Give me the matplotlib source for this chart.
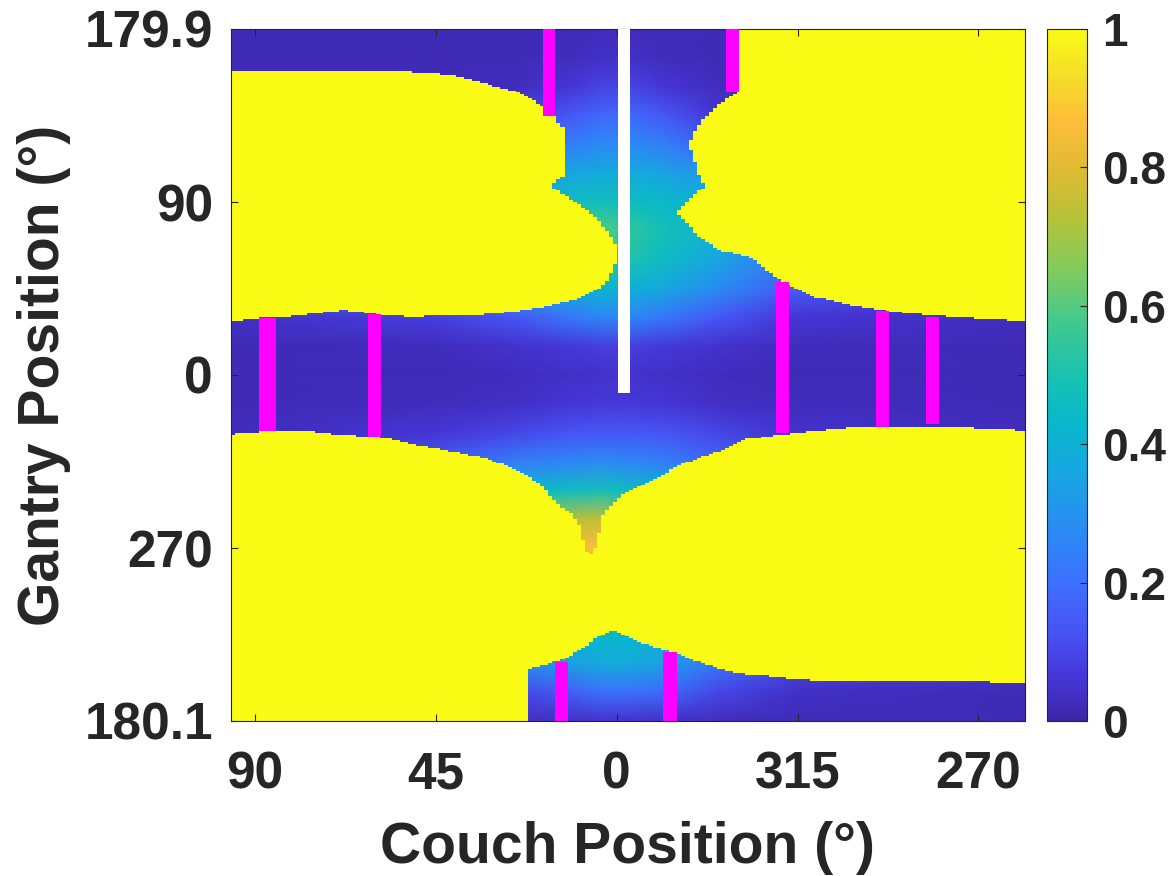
import numpy as np
import matplotlib
matplotlib.use("Agg")
import matplotlib.pyplot as plt
from matplotlib.colors import LinearSegmentedColormap
from matplotlib.path import Path
from matplotlib.patches import Rectangle

# parula-like colormap
parula_pts = [
    (0.00, (0.243, 0.150, 0.660)),
    (0.06, (0.270, 0.210, 0.840)),
    (0.13, (0.280, 0.330, 0.960)),
    (0.20, (0.240, 0.440, 0.995)),
    (0.27, (0.170, 0.540, 0.960)),
    (0.35, (0.100, 0.640, 0.890)),
    (0.43, (0.030, 0.720, 0.800)),
    (0.50, (0.100, 0.760, 0.690)),
    (0.58, (0.260, 0.790, 0.550)),
    (0.65, (0.500, 0.795, 0.370)),
    (0.73, (0.720, 0.760, 0.220)),
    (0.80, (0.880, 0.730, 0.200)),
    (0.87, (0.995, 0.745, 0.230)),
    (0.93, (0.960, 0.860, 0.160)),
    (1.00, (0.977, 0.984, 0.081)),
]
parula = LinearSegmentedColormap.from_list("parula", parula_pts)

# coarse map of the free (non-collision) region, couch x gantry
couch_nodes = [96, 45, 25, 12, 4, -4, -12, -25, -45, -102]
gantry_nodes = [180, 165, 150, 135, 120, 105, 90, 75, 60, 45, 30, 15, 0,
                -15, -30, -45, -60, -75, -90, -105, -120, -135, -150, -165, -180]
free_vals = [
    [.02, .02, .02, .02, .03, .03, .02, .02, .02, .02],
    [.02, .02, .02, .03, .04, .04, .03, .02, .02, .02],
    [.02, .02, .03, .06, .09, .09, .06, .03, .02, .02],
    [.02, .03, .08, .14, .18, .18, .14, .06, .02, .02],
    [.05, .10, .15, .24, .27, .27, .24, .15, .05, .05],
    [.10, .20, .30, .36, .38, .38, .35, .30, .10, .10],
    [.15, .30, .42, .46, .47, .46, .44, .40, .15, .10],
    [.20, .40, .52, .57, .60, .54, .48, .40, .20, .10],
    [.20, .40, .50, .53, .54, .50, .45, .36, .20, .10],
    [.15, .30, .34, .40, .42, .40, .36, .28, .15, .06],
    [.04, .08, .14, .22, .26, .26, .22, .14, .06, .03],
    [.02, .03, .05, .07, .08, .08, .07, .05, .03, .02],
    [.02, .02, .03, .04, .05, .05, .04, .03, .02, .02],
    [.02, .03, .04, .06, .07, .07, .06, .04, .03, .02],
    [.03, .06, .10, .13, .14, .14, .13, .10, .05, .03],
    [.05, .15, .24, .26, .27, .26, .24, .18, .10, .05],
    [.10, .30, .42, .46, .48, .45, .42, .30, .15, .10],
    [.20, .50, .66, .72, .75, .70, .60, .45, .20, .10],
    [.30, .60, .80, .85, .87, .85, .70, .50, .30, .20],
    [.30, .60, .80, .85, .87, .85, .70, .50, .30, .20],
    [.30, .40, .42, .44, .45, .45, .44, .40, .30, .20],
    [.20, .30, .38, .42, .43, .42, .40, .30, .20, .10],
    [.10, .20, .28, .34, .38, .38, .34, .22, .10, .05],
    [.03, .06, .10, .15, .20, .20, .18, .10, .04, .02],
    [.02, .02, .03, .04, .05, .05, .04, .03, .02, .02],
]

# collision zones (value 1), outlines as (couch, gantry)
upper_left = [
    (96, 158.3), (58.9, 158.3), (50.7, 157.5), (41.5, 156.1), (35.8, 153.5),
    (30.0, 150.0), (24.9, 147.4), (20.8, 143.1), (18.3, 139.4), (15.4, 134.9),
    (14.1, 129.2), (13.3, 129.2), (13.3, 103.2), (14.1, 103.2), (16.6, 98.0),
    (14.9, 96.3), (10.8, 90.2), (7.5, 85.9), (4.2, 78.9), (2.1, 73.7),
    (-0.5, 65.0), (0.7, 56.3), (2.1, 51.1), (2.9, 47.7), (5.8, 43.3),
    (8.3, 40.7), (12.5, 38.1), (18.3, 35.5), (25.7, 32.9), (34.9, 31.2),
    (51.5, 30.3), (58.9, 31.2), (68.0, 33.8), (73.9, 32.1), (82.2, 30.3),
    (88.8, 29.5), (96, 27.7),
]
upper_right = [
    (-30.4, 181), (-30.4, 147.1), (-27.4, 144.0), (-24.5, 138.8), (-22.4, 134.4),
    (-19.9, 129.2), (-19.1, 125.8), (-17.8, 118.0), (-19.1, 115.3), (-19.9, 105.8),
    (-22.0, 98.0), (-17.8, 91.1), (-14.9, 84.1), (-17.8, 78.0), (-20.7, 72.0),
    (-25.3, 65.0), (-34.0, 61.2), (-37.4, 54.6), (-42.3, 46.8), (-49.0, 40.7),
    (-58.1, 36.4), (-68.9, 32.9), (-83.0, 30.3), (-103, 27.7), (-103, 181),
]
lower = [
    (97, -30.9), (89, -29.5), (75.5, -29.5), (67.2, -31.2), (58.9, -32.4),
    (49.8, -36.4), (40.7, -39.9), (32.4, -43.3), (25.7, -48.5), (21.6, -52.9),
    (18.3, -58.1), (14.9, -66.8), (11.6, -72.0), (9.6, -77.2), (7.9, -91.1),
    (6.2, -93.7), (5.0, -87.6), (3.7, -73.7), (2.5, -70.2), (-0.8, -63.3),
    (-2.5, -60.7), (-5.8, -57.2), (-10.8, -52.9), (-14.9, -47.7), (-19.9, -43.3),
    (-26.5, -39.0), (-32.4, -33.5), (-39.8, -31.2), (-49.0, -29.0), (-58.9, -27.2),
    (-78.8, -26.9), (-93.8, -27.8), (-103, -29.0),
    (-103, -159.6), (-53.9, -159.1), (-45.6, -158.3), (-35.7, -156.1), (-30.7, -155.2),
    (-22.4, -150.9), (-16.6, -146.6), (-14.9, -144.3), (-10.0, -142.2), (-5.8, -139.3),
    (0.8, -133.2), (1.7, -133.2), (5.0, -136.2), (7.5, -141.4), (10.8, -144.8),
    (12.5, -147.4), (16.6, -150.0), (21.6, -153.1), (21.6, -181), (97, -181),
]

# highlighted couch columns: couch span and gantry span
mark_couch_a = [18.4, -27.1, 89.0, 62.0, -39.6, -64.4, -76.9, 15.4, -11.6]
mark_couch_b = [15.4, -30.4, 84.7, 58.7, -42.8, -67.7, -80.2, 12.1, -14.9]
mark_gantry_lo = [134.9, 147.1, -29.1, -32.1, -30.3, -26.9, -25.7, -180, -180]
mark_gantry_hi = [180, 180, 29.8, 31.7, 48.5, 33.5, 30.3, -149.2, -144.3]

# current couch trajectory
traj_couch = (-0.4, -3.4)
traj_gantry = (-9.4, 180)

plt.rcParams['font.family'] = ['Liberation Sans', 'DejaVu Sans']
plt.rcParams['font.weight'] = 'bold'
plt.rcParams['axes.labelweight'] = 'bold'
ink = '#262626'

fig = plt.figure(figsize=(11.73, 8.76), dpi=100)
ax = fig.add_axes([231 / 1173, 155 / 876, 794 / 1173, 692 / 876])
cax = fig.add_axes([1047 / 1173, 155 / 876, 40 / 1173, 692 / 876])

mesh = ax.pcolormesh(couch_nodes, gantry_nodes, np.array(free_vals),
                     shading='gouraud', cmap=parula, vmin=0, vmax=1)

# rasterise the collision outlines on a 1 degree grid
c_edges = np.arange(96, -103, -1.0)
g_edges = np.arange(180, -181, -1.0)
cc, gg = np.meshgrid((c_edges[:-1] + c_edges[1:]) / 2, (g_edges[:-1] + g_edges[1:]) / 2)
pts = np.column_stack([cc.ravel(), gg.ravel()])
hit = np.zeros(len(pts), dtype=bool)
for poly in (upper_left, upper_right, lower):
    hit |= Path(poly).contains_points(pts)
coll = np.ma.masked_where(~hit.reshape(cc.shape), np.ones(cc.shape))
ax.pcolormesh(c_edges, g_edges, coll, cmap=parula, vmin=0, vmax=1,
              shading='flat', edgecolors='none', antialiased=False)

for ca, cb, glo, ghi in zip(mark_couch_a, mark_couch_b, mark_gantry_lo, mark_gantry_hi):
    ax.add_patch(Rectangle((cb, glo), ca - cb, ghi - glo, facecolor='#ff00ff',
                           edgecolor='none', zorder=3))
ax.add_patch(Rectangle((traj_couch[1], traj_gantry[0]), traj_couch[0] - traj_couch[1],
                       traj_gantry[1] - traj_gantry[0], facecolor='white',
                       edgecolor='none', zorder=4))

ax.set_xlim(96, -101.6)
ax.set_ylim(-180, 180)
ax.set_xticks([90, 45, 0, -45, -90])
ax.set_xticklabels(['90', '45', '0', '315', '270'])
ax.set_yticks([180, 90, 0, -90, -180])
ax.set_yticklabels(['179.9', '90', '0', '270', '180.1'])
ax.tick_params(direction='in', length=5, width=0.8, colors=ink, labelsize=37,
               top=True, right=True)
ax.tick_params(axis='x', pad=21)
ax.tick_params(axis='y', pad=13)
for s in ax.spines.values():
    s.set_color(ink)
    s.set_linewidth(0.8)
ax.set_xlabel('Couch Position (°)', fontsize=41, color=ink, labelpad=16)
ax.set_ylabel('Gantry Position (°)', fontsize=41, color=ink, labelpad=10)

cb = fig.colorbar(mesh, cax=cax, ticks=[0, 0.2, 0.4, 0.6, 0.8, 1])
cb.ax.set_yticklabels(['0', '0.2', '0.4', '0.6', '0.8', '1'])
cb.ax.tick_params(direction='in', length=5, width=0.8, colors=ink, labelsize=33, pad=11)
cb.outline.set_edgecolor(ink)
cb.outline.set_linewidth(0.8)

fig.savefig('out.png', dpi=100)
